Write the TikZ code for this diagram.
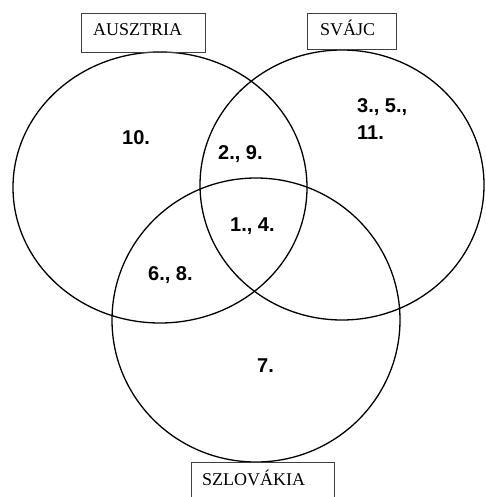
\documentclass[tikz,border=0pt]{standalone}
\usepackage{fontspec}
\setmainfont{Liberation Serif}
\newfontfamily\numfont{Liberation Sans}
\usetikzlibrary{shapes.geometric}
\tikzset{
  setshape/.style={draw=black, line width=1.3pt, ellipse, inner sep=0pt, outer sep=0pt},
  labelbox/.style={draw=black!75, line width=0.9pt, rectangle, inner sep=0pt, anchor=north west},
  labeltext/.style={font=\fontsize{18}{20}\selectfont, inner sep=0pt, anchor=base west},
  numtext/.style={font=\numfont\bfseries\fontsize{20}{28}\selectfont, inner sep=0pt, anchor=base west, align=left}
}
\begin{document}
\begin{tikzpicture}[x=1pt,y=-1pt]
\useasboundingbox (0,0) rectangle (485,497);
\clip (0,0) rectangle (485,497);
% circles
\node[setshape, minimum width=294pt, minimum height=271pt] (A) at (160,187.5) {};
\node[setshape, minimum width=284pt, minimum height=270pt] (S) at (342,185) {};
\node[setshape, minimum width=288pt, minimum height=284pt] (K) at (256,320) {};
% label boxes
\node[labelbox, minimum width=124pt, minimum height=39pt] (boxA) at (81,13) {};
\node[labelbox, minimum width=89pt, minimum height=36pt] (boxS) at (307,13) {};
\node[labelbox, minimum width=143pt, minimum height=60pt] (boxK) at (191,462) {};
\node[labeltext] (tA) at (93,36) {AUSZTRIA};
\node[labeltext] (tS) at (320,36) {SVÁJC};
\node[labeltext] (tK) at (202,485) {SZLOVÁKIA};
% region numbers
\node[numtext] (n10) at (122,145) {10.};
\node[numtext] (n29) at (218,159) {2., 9.};
\node[numtext] (n3511) at (357,140) {3., 5.,\\11.};
\node[numtext] (n14) at (230,231) {1., 4.};
\node[numtext] (n68) at (148,280) {6., 8.};
\node[numtext] (n7) at (257,372) {7.};
\end{tikzpicture}
\end{document}
